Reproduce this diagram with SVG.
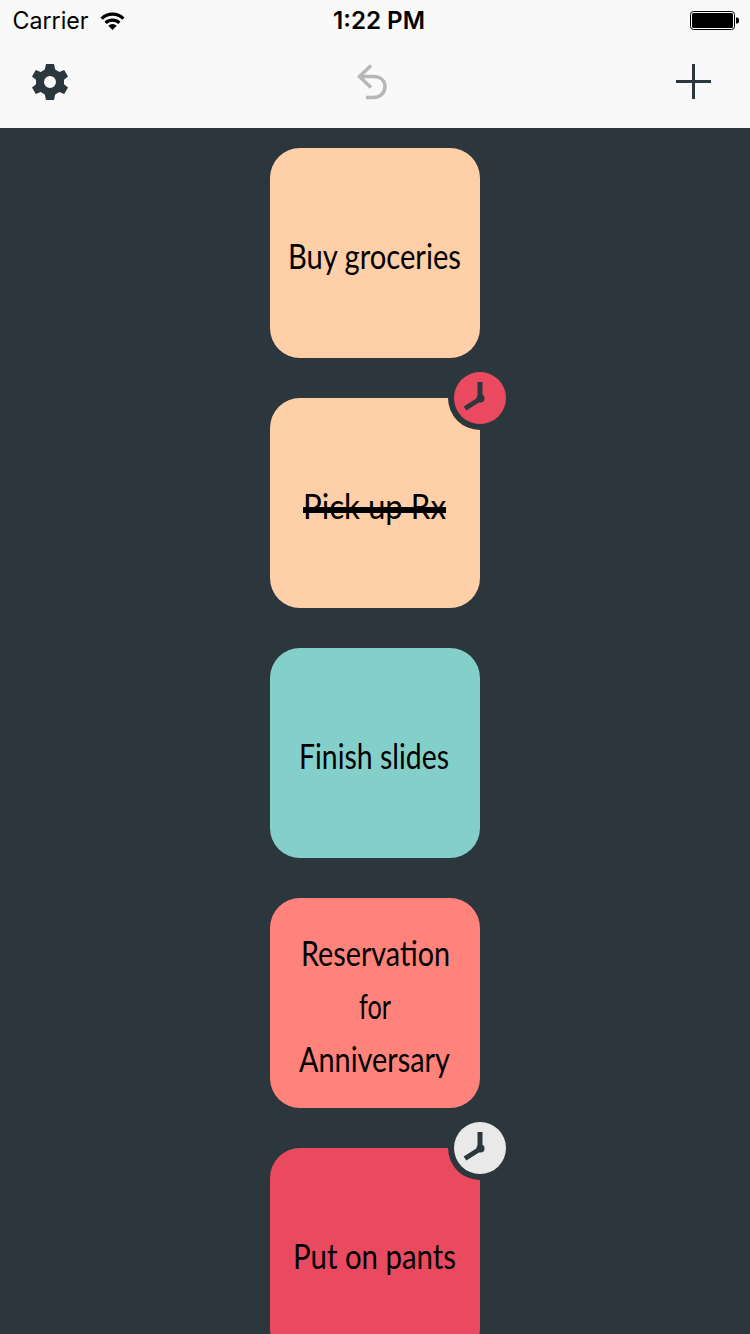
<svg xmlns="http://www.w3.org/2000/svg" width="750" height="1334" viewBox="0 0 750 1334">
<style>
.card{stroke:none}
.lbl{font-family:"Lato","Noto Sans",sans-serif;font-size:35px;fill:#000;text-anchor:start}
.sb{font-family:"Inter","Liberation Sans",sans-serif;fill:#000}
.hand{fill:none;stroke:#2c363d;stroke-width:5}
.ring{fill:#2c363d}
</style>
<defs>
<g id="clockHands">
<path class="hand" d="M0 -16V1L-15 10.500" stroke-linejoin="round"/>
<circle cx="0.500" cy="0.500" r="4" fill="#2c363d"/>
</g>
</defs>
<rect width="750" height="1334" fill="#2c363d"/>
<g id="header">
<rect width="750" height="128" fill="#f9f9f9"/>
<text class="sb" x="12.500" y="29" font-size="24" textLength="76" lengthAdjust="spacingAndGlyphs">Carrier</text>
<g id="wifi" fill="#000">
<path d="M100.500 17.500A17 17 0 0 1 124.500 17.500L122.300 19.800A14 14 0 0 0 102.700 19.800Z"/>
<path d="M104.500 21.700A11.500 11.500 0 0 1 120.500 21.700L118.300 24A8.500 8.500 0 0 0 106.700 24Z"/>
<path d="M108.300 25.800A6 6 0 0 1 116.700 25.800L112.500 30Z"/>
</g>
<text class="sb" x="333" y="29" font-size="24" font-weight="600" textLength="92" lengthAdjust="spacingAndGlyphs">1:22 PM</text>
<g id="battery">
<rect x="690.500" y="11.500" width="44" height="18" rx="3" fill="#fff" stroke="#000"/>
<rect x="692" y="13" width="41" height="15" rx="1.500" fill="#000"/>
<path d="M736 17.500h1a2 2 0 0 1 2 2v2a2 2 0 0 1-2 2h-1z" fill="#000"/>
</g>
<g id="settings" transform="translate(50 82)">
<path fill="#2c363d" fill-rule="evenodd" d="M-4 -18H4L5.200 -12.500L9.300 -10.100L14.200 -12L18 -5.500L14 -2.200V2.200L18 5.500L14.200 12L9.300 10.100L5.200 12.500L4 18H-4L-5.200 12.500L-9.300 10.100L-14.200 12L-18 5.500L-14 2.200V-2.200L-18 -5.500L-14.200 -12L-9.300 -10.100L-5.200 -12.500ZM0 -6A6 6 0 1 0 0 6A6 6 0 1 0 0 -6Z"/>
</g>
<g id="undo" fill="none" stroke="#b7b7b7" stroke-width="3.500">
<path d="M371 65.500L359.500 76.500L371 87.500"/>
<path d="M359.500 76.500H373C381 76.500 385 81 385 86.500C385 93 380 97.500 373 97.500H366"/>
</g>
<g id="add" fill="none" stroke="#2c363d" stroke-width="3">
<path d="M693.500 64V99M676 81.500H711"/>
</g>
</g>
<g id="card-buy-groceries">
<rect class="card" x="270" y="148" width="210" height="210" rx="30" fill="#ffcfa8"/>
<text class="lbl" x="288" y="269" textLength="173" lengthAdjust="spacingAndGlyphs">Buy groceries</text>
</g>
<g id="card-pick-up">
<rect class="card" x="270" y="398" width="210" height="210" rx="30" fill="#ffcfa8"/>
<text class="lbl" x="303" y="519" textLength="143" lengthAdjust="spacingAndGlyphs">Pick up Rx</text>
<rect x="303" y="507" width="143" height="6" fill="#000"/>
<g id="badge-pick-up" transform="translate(480 398)">
<circle class="ring" r="32"/>
<circle r="26" fill="#ea4a60"/>
<use href="#clockHands"/>
</g>
</g>
<g id="card-finish-slides">
<rect class="card" x="270" y="648" width="210" height="210" rx="30" fill="#85cfcb"/>
<text class="lbl" x="299" y="769" textLength="150" lengthAdjust="spacingAndGlyphs">Finish slides</text>
</g>
<g id="card-reservation">
<rect class="card" x="270" y="898" width="210" height="210" rx="30" fill="#ff837b"/>
<text class="lbl" x="301" y="966" textLength="149" lengthAdjust="spacingAndGlyphs">Reservation</text>
<text class="lbl" x="359" y="1019" textLength="32" lengthAdjust="spacingAndGlyphs">for</text>
<text class="lbl" x="299" y="1072" textLength="151" lengthAdjust="spacingAndGlyphs">Anniversary</text>
</g>
<g id="card-put-on-pants">
<rect class="card" x="270" y="1148" width="210" height="210" rx="30" fill="#ea4a60"/>
<text class="lbl" x="293" y="1269" textLength="163" lengthAdjust="spacingAndGlyphs">Put on pants</text>
<g id="badge-put-on-pants" transform="translate(480 1148)">
<circle class="ring" r="32"/>
<circle r="26" fill="#e9e9e9"/>
<use href="#clockHands"/>
</g>
</g>
<g id="connectors"/>
</svg>
